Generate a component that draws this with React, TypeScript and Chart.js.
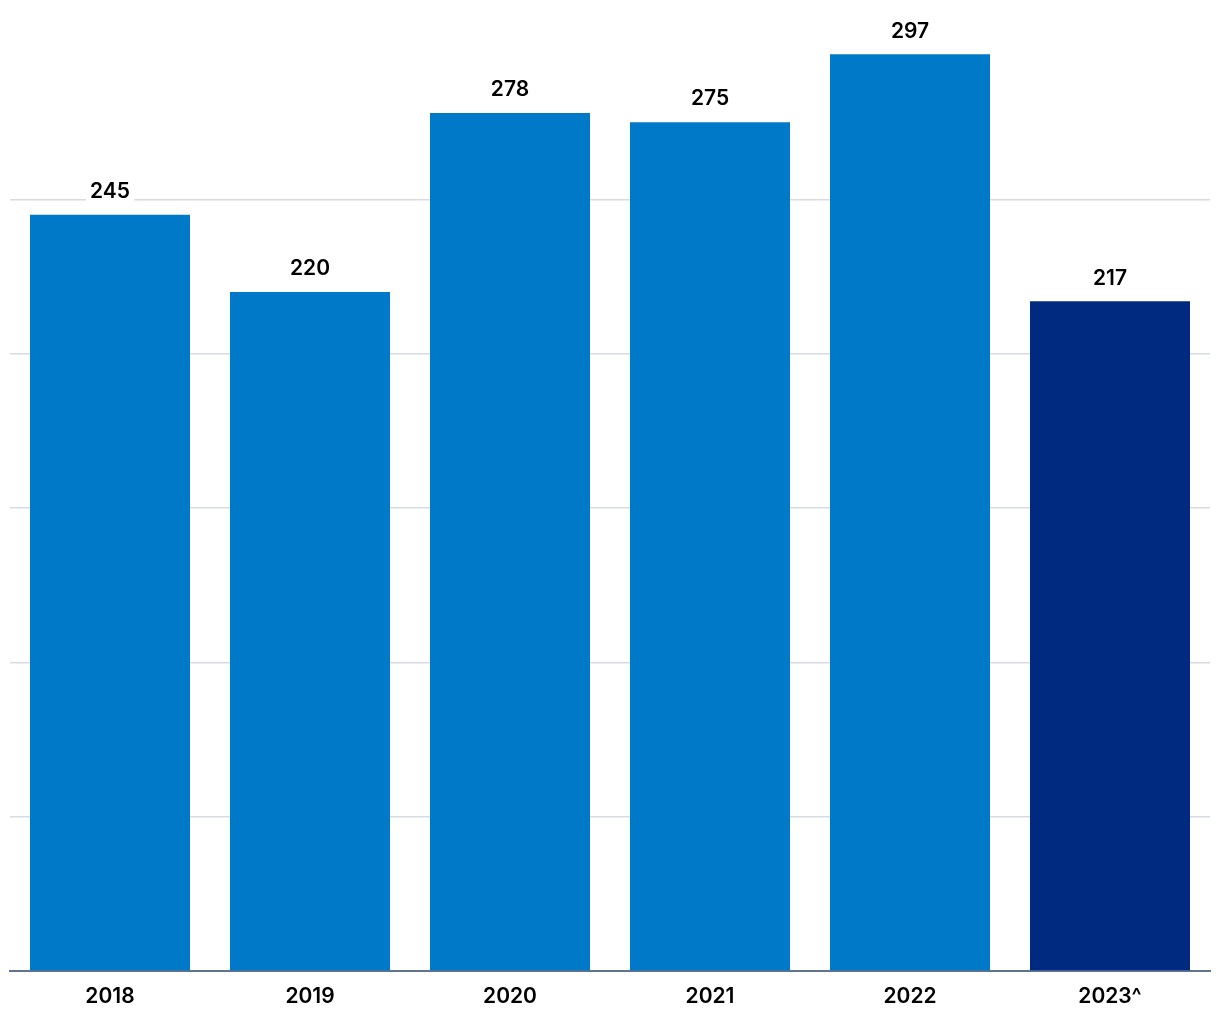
import React, { useEffect, useRef } from "react";
import { Chart, registerables } from "chart.js";

Chart.register(...registerables);

const categories = ["2018", "2019", "2020", "2021", "2022", "2023^"];
const values = [245, 220, 278, 275, 297, 217];
const barColors = ["#007ac8", "#007ac8", "#007ac8", "#007ac8", "#007ac8", "#002a7f"];
const yTicks = [0, 50, 100, 150, 200, 250, 300];

const FONT = "Inter, 'Open Sans', sans-serif";

const valueLabels = {
  id: "valueLabels",
  afterDatasetsDraw(chart: any) {
    const ctx = chart.ctx;
    const meta = chart.getDatasetMeta(0);
    ctx.save();
    ctx.font = `600 21px ${FONT}`;
    ctx.textAlign = "center";
    ctx.textBaseline = "middle";
    meta.data.forEach((bar: any, i: number) => {
      const text = String(values[i]);
      const cx = bar.x;
      const cy = bar.y - 24;
      const w = ctx.measureText(text).width + 8;
      ctx.fillStyle = "#ffffff";
      ctx.fillRect(cx - w / 2, cy - 12, w, 24);
      ctx.fillStyle = "#000000";
      ctx.fillText(text, cx, cy + 1);
    });
    ctx.restore();
  },
};

export default function App() {
  const ref = useRef<HTMLCanvasElement | null>(null);
  useEffect(() => {
    if (!ref.current) return;
    const chart = new Chart(ref.current, {
      type: "bar",
      data: {
        labels: categories,
        datasets: [
          {
            data: values,
            backgroundColor: barColors,
            barPercentage: 0.8,
            categoryPercentage: 1.0,
          },
        ],
      },
      options: {
        animation: false,
        responsive: false,
        layout: { padding: { left: 10, right: 10, top: 45, bottom: 0 } },
        plugins: { legend: { display: false }, tooltip: { enabled: false } },
        scales: {
          x: {
            afterFit: (axis: any) => {
              axis.height = 49;
            },
            grid: { display: false, drawTicks: false },
            border: { display: true, color: "#5f7392", width: 2 },
            ticks: {
              padding: 13,
              color: "#000000",
              font: { family: FONT, size: 21, weight: 600 },
            },
          },
          y: {
            min: 0,
            max: 300,
            afterBuildTicks: (axis: any) => {
              axis.ticks = yTicks.map((v) => ({ value: v }));
            },
            ticks: { display: false },
            border: { display: false },
            grid: {
              drawTicks: false,
              lineWidth: 1.5,
              color: (c: any) =>
                c.tick && (c.tick.value === 0 || c.tick.value === 300)
                  ? "rgba(0,0,0,0)"
                  : "#d8dbe6",
            },
          },
        },
      },
      plugins: [valueLabels],
    });
    return () => chart.destroy();
  }, []);
  return (
    <div style={{ position: "absolute", left: 0, top: 0, width: 1220, height: 1020, background: "#fff" }}>
      <canvas ref={ref} width={1220} height={1020} style={{ width: 1220, height: 1020 }} />
    </div>
  );
}
